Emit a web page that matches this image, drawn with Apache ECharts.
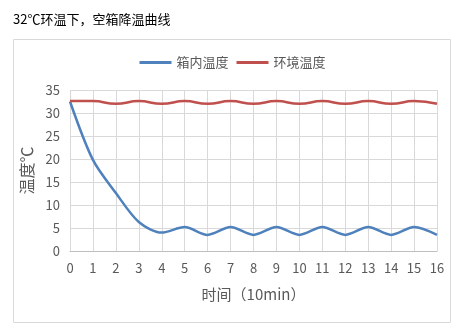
<!DOCTYPE html>
<html><head><meta charset="utf-8">
<script src="https://cdn.jsdelivr.net/npm/echarts@6/dist/echarts.min.js"></script>
<style>html,body{margin:0;padding:0;background:#fff}#c{width:465px;height:333px}</style>
</head><body><div id="c"></div>
<script>
const times = [0,1,2,3,4,5,6,7,8,9,10,11,12,13,14,15,16];
const inside = [32.5,19.8,12.6,6.3,4.0,5.2,3.5,5.2,3.5,5.2,3.5,5.2,3.5,5.2,3.5,5.2,3.5];
const ambient = [32.6,32.6,32.0,32.6,32.0,32.6,32.0,32.6,32.0,32.6,32.0,32.6,32.0,32.6,32.0,32.6,32.0];
const font = '"Noto Sans CJK SC", "Noto Sans", sans-serif';
const chart = echarts.init(document.getElementById('c'));
chart.setOption({
  animation: false,
  textStyle: {fontFamily: font},
  title: {text: '32℃环温下，空箱降温曲线', left: 8, top: 8, textStyle: {fontSize: 13, fontWeight: 'normal', color: '#000', fontFamily: font}},
  graphic: [{type: 'rect', shape: {x: 13.5, y: 39.5, width: 437, height: 283}, style: {fill: 'none', stroke: '#d9d9d9', lineWidth: 1}, silent: true}],
  legend: {top: 51, left: 'center', itemWidth: 32, itemHeight: 3, itemGap: 8, icon: 'rect',
    textStyle: {fontSize: 13, color: '#595959', fontFamily: font}, data: ['箱内温度','环境温度']},
  grid: {left: 70, right: 28, top: 90, bottom: 82, containLabel: false},
  xAxis: {type: 'value', min: 0, max: 16, interval: 1,
    name: '时间（10min）', nameLocation: 'middle', nameGap: 36,
    nameTextStyle: {fontSize: 15, color: '#595959', fontFamily: font},
    axisLine: {show: true, lineStyle: {color: '#bfbfbf'}}, axisTick: {show: false},
    axisLabel: {fontSize: 13, color: '#595959', margin: 11},
    splitLine: {show: true, lineStyle: {color: '#d9d9d9'}}},
  yAxis: {type: 'value', min: 0, max: 35, interval: 5,
    name: '温度℃', nameLocation: 'middle', nameGap: 32, nameRotate: 90,
    nameTextStyle: {fontSize: 16, color: '#595959', fontFamily: font},
    axisLine: {show: false}, axisTick: {show: false},
    axisLabel: {fontSize: 13, color: '#595959', margin: 10},
    splitLine: {show: true, lineStyle: {color: '#d9d9d9'}}},
  series: [
    {name: '箱内温度', type: 'line', smooth: 0.3, symbol: 'none', data: times.map((t,i)=>[t, inside[i]]),
      lineStyle: {width: 2.5, color: '#4f81bd'}, itemStyle: {color: '#4f81bd'}},
    {name: '环境温度', type: 'line', smooth: 0.5, symbol: 'none', data: times.map((t,i)=>[t, ambient[i]]),
      lineStyle: {width: 2.5, color: '#c0504d'}, itemStyle: {color: '#c0504d'}}
  ]
});
</script></body></html>
